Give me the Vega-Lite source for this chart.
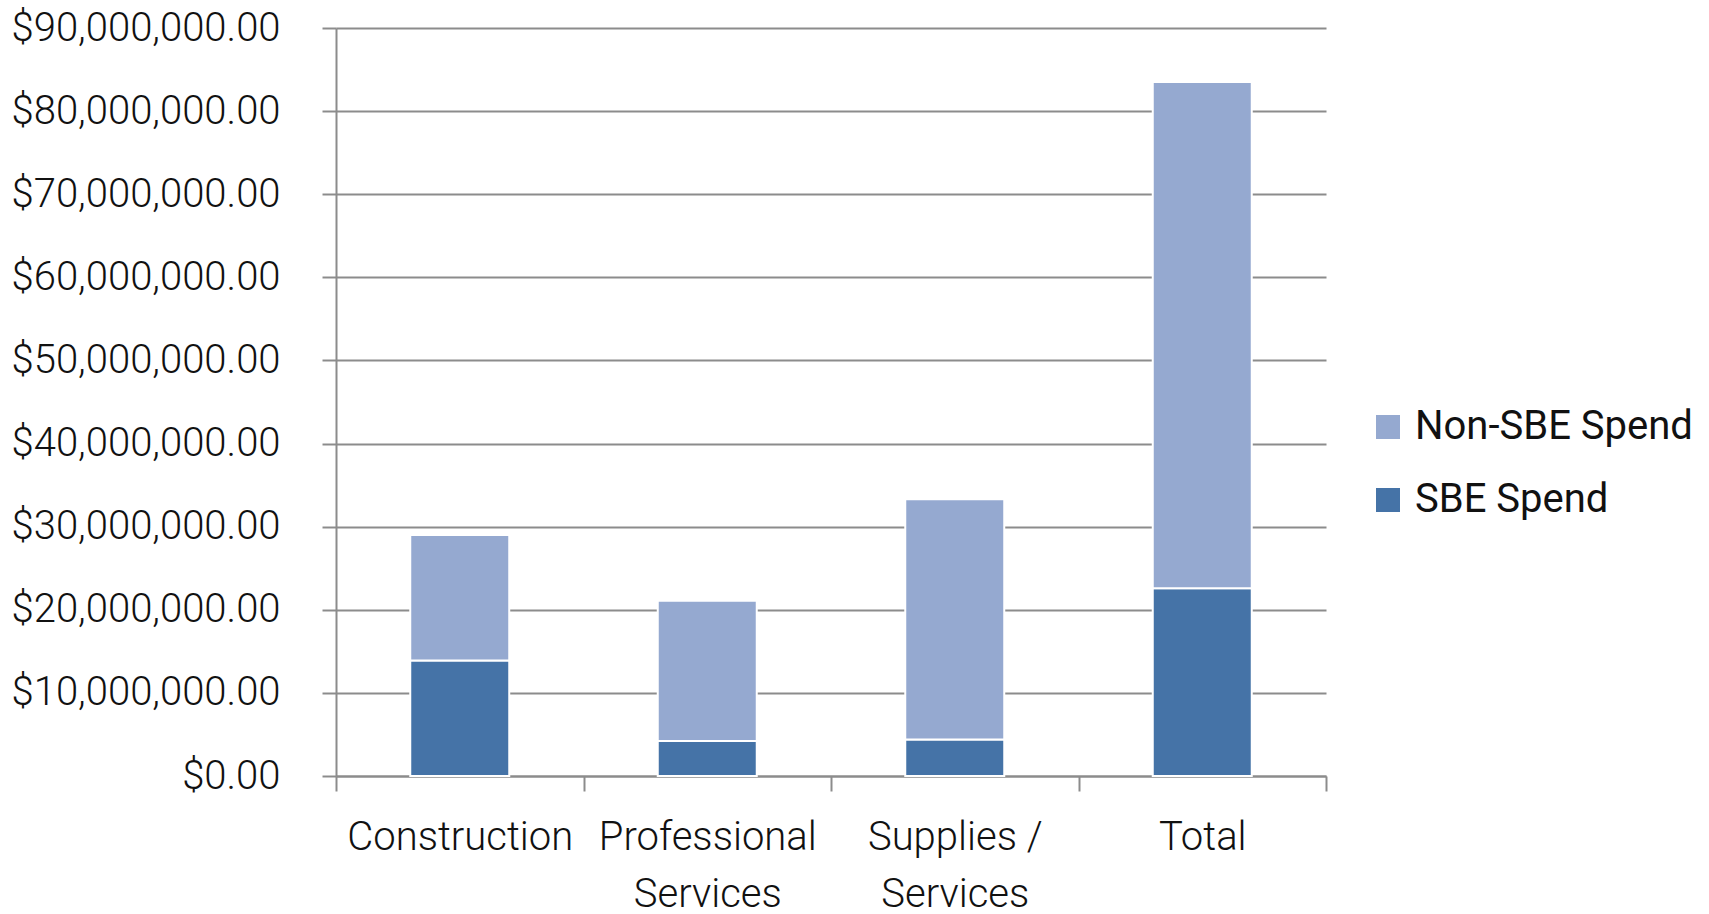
{
  "$schema": "https://vega.github.io/schema/vega-lite/v6.json",
  "autosize": "none",
  "width": 990,
  "height": 748,
  "padding": {"left": 336, "top": 28, "right": 383, "bottom": 138},
  "background": "white",
  "config": {
    "view": {"stroke": null},
    "font": "Roboto",
    "axis": {"labelFont": "Roboto", "labelFontWeight": 300, "labelColor": "#111111"},
    "legend": {"labelFont": "Roboto"}
  },
  "data": {
    "values": [
      {"category": "Construction", "series": "SBE Spend", "amount": 13900000},
      {"category": "Construction", "series": "Non-SBE Spend", "amount": 15100000},
      {"category": "Professional Services", "series": "SBE Spend", "amount": 4200000},
      {"category": "Professional Services", "series": "Non-SBE Spend", "amount": 16900000},
      {"category": "Supplies / Services", "series": "SBE Spend", "amount": 4400000},
      {"category": "Supplies / Services", "series": "Non-SBE Spend", "amount": 28900000},
      {"category": "Total", "series": "SBE Spend", "amount": 22600000},
      {"category": "Total", "series": "Non-SBE Spend", "amount": 60900000}
    ]
  },
  "mark": {"type": "bar", "stroke": "white", "strokeWidth": 2, "width": {"band": 0.4}},
  "encoding": {
    "x": {
      "field": "category",
      "type": "nominal",
      "sort": null,
      "scale": {"paddingInner": 0, "paddingOuter": 0},
      "axis": {
        "title": null,
        "labelAngle": 0,
        "labelFontSize": 40,
        "labelPadding": 26,
        "labelBaseline": "top",
        "labelLineHeight": 57,
        "labelExpr": "datum.value == 'Professional Services' ? ['Professional', 'Services'] : datum.value == 'Supplies / Services' ? ['Supplies /', 'Services'] : datum.value",
        "tickBand": "extent",
        "tickSize": 15,
        "tickColor": "#8c8c8c",
        "tickWidth": 2,
        "domainColor": "#8c8c8c",
        "domainWidth": 2,
        "grid": false,
        "labelLimit": 0
      }
    },
    "y": {
      "field": "amount",
      "type": "quantitative",
      "stack": "zero",
      "scale": {"domain": [0, 90000000], "nice": false},
      "axis": {
        "title": null,
        "values": [0, 10000000, 20000000, 30000000, 40000000, 50000000, 60000000, 70000000, 80000000, 90000000],
        "format": "$,.2f",
        "labelFontSize": 40,
        "labelPadding": 42,
        "tickSize": 14,
        "tickColor": "#8c8c8c",
        "tickWidth": 2,
        "domainColor": "#8c8c8c",
        "domainWidth": 2,
        "grid": true,
        "gridColor": "#8c8c8c",
        "gridWidth": 2,
        "labelLimit": 0
      }
    },
    "color": {
      "field": "series",
      "type": "nominal",
      "scale": {"domain": ["Non-SBE Spend", "SBE Spend"], "range": ["#95A9D0", "#4573A7"]},
      "legend": {
        "title": null,
        "orient": "none",
        "legendX": 1032,
        "legendY": 379,
        "symbolType": "square",
        "symbolSize": 576,
        "symbolStrokeWidth": 0,
        "labelFontSize": 40,
        "labelOffset": 7,
        "labelLimit": 0,
        "rowPadding": 33,
        "labelColor": "#111111"
      }
    },
    "order": {"field": "series", "sort": "descending"}
  }
}
